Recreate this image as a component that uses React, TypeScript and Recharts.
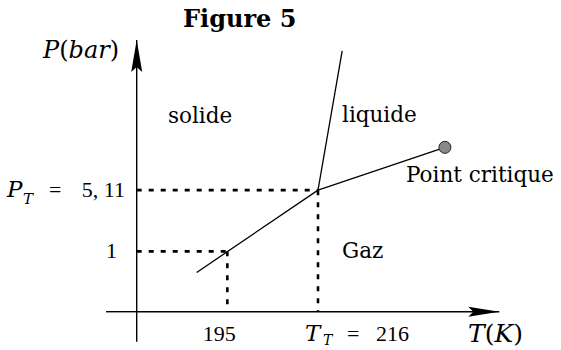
import React from "react";
import {
  ComposedChart,
  Line,
  Scatter,
  XAxis,
  YAxis,
  ReferenceLine,
  ReferenceDot,
} from "recharts";

// diagramme de phases (schématique), T en K, P en bar
const sublimation = [
  { T: 187.9, P: 0.57 },
  { T: 216, P: 5.11 },
];
const fusion = [
  { T: 216, P: 5.11 },
  { T: 221.6, P: 210 },
];
const vaporisation = [
  { T: 216, P: 5.11 },
  { T: 245.4, P: 16 },
];
const criticalPoint = [{ T: 245.4, P: 16 }];
const guides = [
  { T: 195, P: 1 },
  { T: 216, P: 5.11 },
];
const xTicks = [195, 216];
const yTicks = [1, 5.11];

const T_MIN = 174;
const T_MAX = 258;
const P_MIN = 0.2;
const P_MAX = 280;

const SERIF = "'DejaVu Serif', serif";
const NUM = "'Liberation Serif', serif";

function XTick(props: any) {
  const { x, y, payload } = props;
  const base = y + 21;
  if (payload.value === 195) {
    return (
      <text x={x - 8} y={base} textAnchor="middle" fontFamily={NUM} fontSize={22} fill="#000">
        195
      </text>
    );
  }
  return (
    <g fill="#000">
      <text x={x - 13} y={base} fontFamily={SERIF} fontStyle="italic" fontSize={23}>
        T
      </text>
      <text x={x + 5} y={base + 4} fontFamily={SERIF} fontStyle="italic" fontSize={14}>
        T
      </text>
      <text x={x + 29} y={base} fontFamily={NUM} fontSize={22}>
        =
      </text>
      <text x={x + 58} y={base} fontFamily={NUM} fontSize={22}>
        216
      </text>
    </g>
  );
}

function YTick(props: any) {
  const { y, payload } = props;
  const base = y + 7;
  if (payload.value === 1) {
    return (
      <text x={117} y={base} textAnchor="end" fontFamily={NUM} fontSize={22} fill="#000">
        1
      </text>
    );
  }
  return (
    <g fill="#000">
      <text x={7} y={base} fontFamily={SERIF} fontStyle="italic" fontSize={23}>
        P
      </text>
      <text x={23} y={base + 7} fontFamily={SERIF} fontStyle="italic" fontSize={15}>
        T
      </text>
      <text x={49} y={base} fontFamily={NUM} fontSize={22}>
        =
      </text>
      <text x={125} y={base} textAnchor="end" fontFamily={NUM} fontSize={22}>
        5, 11
      </text>
    </g>
  );
}

const xArrow = (p: any) => (
  <polygon points={`${p.cx},${p.cy} ${p.cx - 31},${p.cy - 5} ${p.cx - 26},${p.cy} ${p.cx - 31},${p.cy + 5}`} fill="#000" />
);
const yArrow = (p: any) => (
  <polygon points={`${p.cx},${p.cy} ${p.cx - 5.5},${p.cy + 32} ${p.cx},${p.cy + 27} ${p.cx + 5.5},${p.cy + 32}`} fill="#000" />
);
const critDot = (p: any) => <circle cx={p.cx} cy={p.cy} r={6} fill="#888" stroke="#222" strokeWidth={1} />;

export default function App() {
  return (
    <div style={{ position: "absolute", left: 0, top: 0, width: 561, height: 350, background: "#fff" }}>
      <ComposedChart
        width={561}
        height={350}
        margin={{ top: 40, right: 61.7, bottom: 8.3, left: 36.7 }}
      >
        <XAxis
          type="number"
          dataKey="T"
          domain={[T_MIN, T_MAX]}
          ticks={xTicks}
          allowDataOverflow
          height={30}
          axisLine={{ stroke: "#000", strokeWidth: 1.4 }}
          tickLine={false}
          tick={<XTick />}
        />
        <YAxis
          type="number"
          dataKey="P"
          scale="log"
          domain={[P_MIN, P_MAX]}
          ticks={yTicks}
          allowDataOverflow
          width={100}
          axisLine={{ stroke: "#000", strokeWidth: 1.4 }}
          tickLine={false}
          tick={<YTick />}
        />
        {/* prolongements des axes */}
        <ReferenceLine
          segment={[{ x: 166.9, y: P_MIN }, { x: T_MIN, y: P_MIN }]}
          stroke="#000"
          strokeWidth={1.4}
          ifOverflow="visible"
        />
        <ReferenceLine
          segment={[{ x: T_MIN, y: 0.09 }, { x: T_MIN, y: P_MIN }]}
          stroke="#000"
          strokeWidth={1.4}
          ifOverflow="visible"
        />
        {guides.map((g) => (
          <ReferenceLine
            key={`h-${g.T}`}
            segment={[{ x: T_MIN, y: g.P }, { x: g.T, y: g.P }]}
            stroke="#000"
            strokeWidth={2.6}
            strokeDasharray="5 7"
            ifOverflow="visible"
          />
        ))}
        {guides.map((g) => (
          <ReferenceLine
            key={`v-${g.T}`}
            segment={[{ x: g.T, y: g.P }, { x: g.T, y: P_MIN }]}
            stroke="#000"
            strokeWidth={2.6}
            strokeDasharray="5 7"
            ifOverflow="visible"
          />
        ))}
        <Line data={sublimation} dataKey="P" type="linear" stroke="#000" strokeWidth={1.3} dot={false} isAnimationActive={false} />
        <Line data={fusion} dataKey="P" type="linear" stroke="#000" strokeWidth={1.3} dot={false} isAnimationActive={false} />
        <Line data={vaporisation} dataKey="P" type="linear" stroke="#000" strokeWidth={1.3} dot={false} isAnimationActive={false} />
        <Scatter data={criticalPoint} dataKey="P" shape={critDot} isAnimationActive={false} />
        <ReferenceDot x={T_MAX} y={P_MIN} r={0} shape={xArrow} ifOverflow="visible" />
        <ReferenceDot x={T_MIN} y={P_MAX} r={0} shape={yArrow} ifOverflow="visible" />
      </ComposedChart>
      <svg
        width={561}
        height={350}
        style={{ position: "absolute", left: 0, top: 0, pointerEvents: "none" }}
      >
        <text x={183} y={27} fontFamily={SERIF} fontWeight="bold" fontSize={24} fill="#000">
          Figure 5
        </text>
        <text x={43} y={58} fontFamily={SERIF} fontSize={24} fill="#000">
          <tspan fontStyle="italic">P</tspan>(<tspan fontStyle="italic">bar</tspan>)
        </text>
        <text x={168} y={123} fontFamily={SERIF} fontSize={21.5} fill="#000">solide</text>
        <text x={342} y={122} fontFamily={SERIF} fontSize={21.5} fill="#000">liquide</text>
        <text x={406} y={182} fontFamily={SERIF} fontSize={21.5} fill="#000">Point critique</text>
        <text x={342} y={258} fontFamily={SERIF} fontSize={21.5} fill="#000">Gaz</text>
        <text x={468} y={342} fontFamily={SERIF} fontSize={25} fill="#000">
          <tspan fontStyle="italic">T</tspan>(<tspan fontStyle="italic">K</tspan>)
        </text>
      </svg>
    </div>
  );
}
